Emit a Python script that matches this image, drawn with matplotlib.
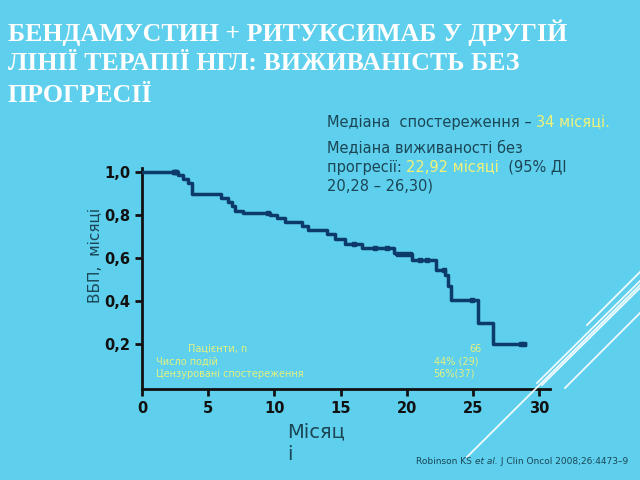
import matplotlib.pyplot as plt
import numpy as np
from matplotlib.lines import Line2D

# Дані кривої Каплана-Мейєра
times = [0, 2.7, 3.1, 3.5, 3.8, 6.0, 6.5, 6.8, 7.0, 7.6, 9.7, 10.2, 10.8, 12.1, 12.5,
         14.0, 14.6, 15.3, 16.6, 19.0, 19.2, 20.4, 22.2, 22.9, 23.1, 23.3, 25.4, 26.5]
surv = [1.0, 0.985, 0.97, 0.95, 0.90, 0.88, 0.86, 0.84, 0.82, 0.81, 0.80, 0.785, 0.77, 0.75, 0.73,
        0.71, 0.69, 0.665, 0.645, 0.625, 0.62, 0.59, 0.545, 0.52, 0.47, 0.405, 0.30, 0.20]
end_time = 28.9
censor_times = [2.4, 2.5, 2.6, 9.5, 16.0, 17.6, 18.5, 19.3, 19.6, 19.9, 20.2, 21.0,
                21.5, 22.8, 24.9, 28.6, 28.8]

x_ticks = [0, 5, 10, 15, 20, 25, 30]
y_ticks = [0.2, 0.4, 0.6, 0.8, 1.0]
y_tick_labels = ["0,2", "0,4", "0,6", "0,8", "1,0"]

table_labels = ["Пацієнти, n", "Число подій", "Цензуровані спостереження"]
table_values = ["66", "44% (29)", "56%(37)"]

bg = "#5ecfec"
dark = "#1b4656"
yellow = "#f2f27a"
table_color = "#e4f27e"
curve_color = "#0c3a6a"

fig = plt.figure(figsize=(6.4, 4.8), dpi=100, facecolor=bg)

# Заголовок
title_lines = ["БЕНДАМУСТИН + РИТУКСИМАБ У ДРУГІЙ",
               "ЛІНІЇ ТЕРАПІЇ НГЛ: ВИЖИВАНІСТЬ БЕЗ",
               "ПРОГРЕСІЇ"]
for i, line in enumerate(title_lines):
    fig.text(0.012, 1 - (33 + 31 * i) / 480, line, color="white", fontsize=18.6,
             fontweight="bold", family="Liberation Serif", va="center", ha="left")

# Графік
ax = fig.add_axes([142 / 640, 91 / 480, 408 / 640, 221 / 480])
ax.set_facecolor(bg)

x_line = times + [end_time]
y_line = surv + [surv[-1]]
ax.step(x_line, y_line, where="post", color=curve_color, lw=2.5, zorder=3)

idx = np.searchsorted(times, censor_times, side="right") - 1
censor_surv = np.array(surv)[idx]
ax.plot(censor_times, censor_surv, ls="none", marker="s", ms=3.5,
        color=curve_color, zorder=4)

ax.set_xlim(0, 30.8)
ax.set_ylim(-0.009, 1.019)
ax.set_xticks(x_ticks)
ax.set_yticks(y_ticks)
ax.set_yticklabels(y_tick_labels)
for s in ["top", "right"]:
    ax.spines[s].set_visible(False)
for s in ["left", "bottom"]:
    ax.spines[s].set_linewidth(2)
    ax.spines[s].set_color("#111111")
ax.tick_params(width=2, length=5, color="#111111", labelsize=10.5, labelcolor="#111111")
for lab in ax.get_xticklabels() + ax.get_yticklabels():
    lab.set_fontweight("bold")

# Підписи осей
fig.text(95 / 640, 1 - 255 / 480, "ВБП,  місяці", rotation=90, color=dark,
         fontsize=11, va="center", ha="center")
fig.text(287 / 640, 1 - 422 / 480, "Місяц\nі", color=dark, fontsize=14,
         va="top", ha="left", linespacing=1.3)

# Таблиця всередині графіка
table_x = [188, 156, 156]
table_y = [349, 362, 374]
value_x = [482, 478, 475]
for lab, val, lx, ly, vx in zip(table_labels, table_values, table_x, table_y, value_x):
    fig.text(lx / 640, 1 - ly / 480, lab, color=table_color, fontsize=7, va="center")
    fig.text(vx / 640, 1 - ly / 480, val, color=table_color, fontsize=7, va="center", ha="right")

# Медіани
t1 = fig.text(327 / 640, 1 - 122 / 480, "Медіана  спостереження – ", color=dark,
              fontsize=10.5, va="center")
ax.annotate("34 місяці.", xy=(1, 0), xycoords=t1, va="bottom", ha="left",
            color=yellow, fontsize=10.5)

fig.text(327 / 640, 1 - 148 / 480, "Медіана виживаності без", color=dark,
         fontsize=10.5, va="center")
t2 = fig.text(327 / 640, 1 - 167 / 480, "прогресії: ", color=dark, fontsize=10.5, va="center")
t3 = ax.annotate("22,92 місяці", xy=(1, 0), xycoords=t2, va="bottom", ha="left",
                 color=yellow, fontsize=10.5)
ax.annotate("  (95% ДІ", xy=(1, 0), xycoords=t3, va="bottom", ha="left",
            color=dark, fontsize=10.5)
fig.text(327 / 640, 1 - 186 / 480, "20,28 – 26,30)", color=dark, fontsize=10.5, va="center")

# Джерело
c1 = fig.text(416 / 640, 1 - 462 / 480, "Robinson KS ", color=dark, fontsize=6.5, va="center")
c2 = ax.annotate("et al.", xy=(1, 0), xycoords=c1, va="bottom", ha="left",
                 color=dark, fontsize=6.5, style="italic")
ax.annotate(" J Clin Oncol 2008;26:4473–9", xy=(1, 0), xycoords=c2, va="bottom",
            ha="left", color=dark, fontsize=6.5)

# Декоративні білі лінії
deco = [((467, 457), (640, 285)),
        ((537, 383), (640, 281)),
        ((542, 385), (640, 288)),
        ((565, 388), (640, 313)),
        ((587, 325), (640, 272))]
for (xa, ya), (xb, yb) in deco:
    fig.add_artist(Line2D([xa / 640, xb / 640], [1 - ya / 480, 1 - yb / 480],
                          color="white", lw=1.3, alpha=0.9))

fig.savefig("out.png", dpi=100, facecolor=bg)
